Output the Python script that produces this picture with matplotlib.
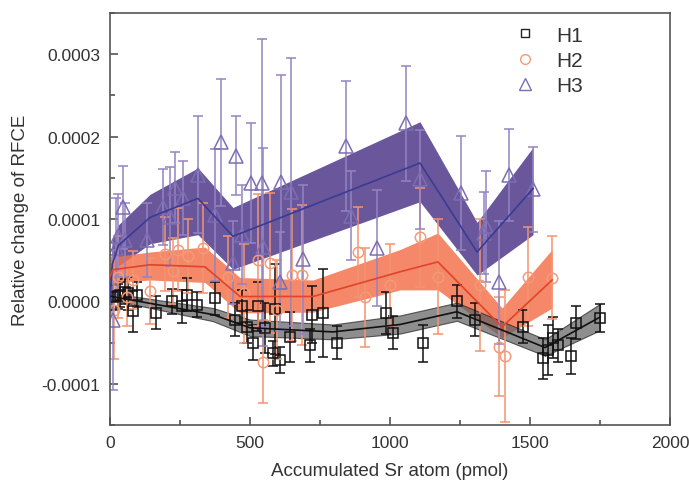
import numpy as np
import matplotlib
matplotlib.use("Agg")
import matplotlib.pyplot as plt
from matplotlib.lines import Line2D
from matplotlib.ticker import MultipleLocator, FuncFormatter

# ----------------------------------------------------------------------
# Datos (RFCE en unidades de 1e-4, x en pmol)
# ----------------------------------------------------------------------
# H1 - cuadrados
h1_x = [10, 29, 36, 54, 64, 82, 96, 165, 221, 257, 275, 311, 375, 446, 470,
        489, 511, 529, 554, 582, 589, 607, 643, 714, 721, 761, 811, 986,
        1011, 1118, 1239, 1304, 1475, 1546, 1564, 1582, 1600, 1646, 1664, 1750]
h1_y = [0.05, 0.06, 0.08, 0.12, 0.10, -0.12, 0.08, -0.14, 0.00, -0.06, 0.08,
        -0.04, 0.04, -0.22, -0.06, -0.31, -0.50, -0.06, -0.32, -0.63, -0.09,
        -0.71, -0.43, -0.53, -0.16, -0.14, -0.50, -0.14, -0.38, -0.51, 0.00,
        -0.22, -0.31, -0.69, -0.59, -0.44, -0.53, -0.66, -0.26, -0.20]
h1_err = [0.15, 0.15, 0.15, 0.15, 0.20, 0.25, 0.15, 0.20, 0.15, 0.20, 0.20,
          0.15, 0.20, 0.20, 0.20, 0.20, 0.21, 0.30, 0.30, 0.15, 0.55, 0.16,
          0.30, 0.20, 0.35, 0.53, 0.20, 0.25, 0.20, 0.22, 0.20, 0.20, 0.20,
          0.25, 0.30, 0.25, 0.20, 0.22, 0.20, 0.17]

# H2 - circulos
h2_x = [15, 30, 60, 82, 143, 196, 225, 243, 279, 332, 420, 480, 529, 546,
        571, 596, 650, 686, 886, 911, 1000, 1107, 1171, 1321, 1389, 1411,
        1493, 1579]
h2_y = [-0.10, 0.30, 0.05, 0.26, 0.13, 0.58, 0.37, 0.63, 0.55, 0.65, 0.30,
        0.10, 0.50, -0.73, 0.47, -0.10, 0.32, 0.32, 0.60, 0.05, 0.20, 0.78,
        0.30, 0.20, -0.55, -0.66, 0.30, 0.29]
h2_err = [0.60, 0.50, 0.35, 0.35, 0.40, 0.45, 0.40, 0.50, 0.45, 0.55, 0.50,
          0.60, 0.80, 0.50, 0.85, 0.60, 0.80, 0.85, 0.55, 0.60, 0.50, 0.60,
          0.70, 0.80, 0.60, 0.80, 0.60, 0.50]

# H3 - triangulos
h3_x = [10, 20, 30, 45, 55, 132, 190, 214, 232, 261, 315, 375, 396, 440,
        450, 471, 503, 543, 548, 607, 611, 646, 690, 843, 861, 954, 1057,
        1107, 1254, 1336, 1343, 1389, 1425, 1511]
h3_y = [-0.22, 0.65, 0.80, 1.14, 0.75, 0.75, 1.15, 1.03, 1.38, 1.26, 1.54,
        1.05, 1.93, 0.47, 1.77, 0.81, 1.44, 1.44, 0.66, 0.24, 1.45, 1.33,
        0.51, 1.89, 1.04, 0.65, 2.16, 1.48, 1.32, 0.83, 0.91, 0.23, 1.53,
        1.36]
h3_err = [0.85, 0.60, 0.50, 0.50, 0.45, 0.45, 0.46, 0.60, 0.43, 0.45, 0.71,
          0.80, 0.77, 0.50, 0.48, 0.60, 0.73, 1.75, 1.20, 0.60, 1.30, 1.63,
          0.90, 0.79, 0.54, 0.70, 0.70, 0.60, 0.69, 0.50, 0.67, 0.75, 0.56,
          0.52]

# Ajustes (linea central + banda)
h1_fit_x = [5, 368, 500, 796, 1036, 1239, 1554, 1750]
h1_fit_y = [0.06, -0.16, -0.32, -0.37, -0.28, -0.125, -0.56, -0.19]
h1_fit_hi = [0.10, -0.08, -0.22, -0.28, -0.17, -0.015, -0.46, -0.03]
h1_fit_lo = [0.02, -0.24, -0.42, -0.46, -0.39, -0.235, -0.66, -0.35]

h2_fit_x = [0, 10, 143, 339, 464, 725, 1036, 1171, 1400, 1579]
h2_fit_y = [0.30, 0.385, 0.445, 0.42, 0.06, 0.06, 0.36, 0.48, -0.31, 0.26]
h2_fit_hi = [0.55, 0.54, 0.60, 0.66, 0.29, 0.26, 0.63, 0.83, -0.08, 0.63]
h2_fit_lo = [0.10, 0.23, 0.26, 0.23, -0.14, -0.13, 0.14, 0.14, -0.44, -0.08]

h3_fit_x = [0, 8, 30, 143, 314, 439, 1107, 1311, 1511]
h3_fit_y = [0.00, 0.45, 0.68, 1.02, 1.25, 0.79, 1.68, 0.60, 1.37]
h3_fit_hi = [0.35, 0.75, 0.93, 1.30, 1.62, 1.14, 2.18, 0.96, 1.87]
h3_fit_lo = [-0.35, 0.15, 0.43, 0.70, 0.81, 0.39, 1.21, 0.32, 0.81]

labels = ["H1", "H2", "H3"]

E = 1e-4  # escala

# ----------------------------------------------------------------------
# Figura
# ----------------------------------------------------------------------
plt.rcParams["font.family"] = ["Liberation Sans", "DejaVu Sans"]
txt = "#333333"

fig = plt.figure(figsize=(6.89, 4.85), dpi=100)
ax = fig.add_axes([0.1597, 0.1216, 0.8127, 0.8495])

# bandas
ax.fill_between(h3_fit_x, np.array(h3_fit_lo) * E, np.array(h3_fit_hi) * E,
                color="#5a4590", alpha=0.9, lw=0, zorder=1)
ax.fill_between(h2_fit_x, np.array(h2_fit_lo) * E, np.array(h2_fit_hi) * E,
                color="#f3734d", alpha=0.85, lw=0, zorder=1)
ax.fill_between(h1_fit_x, np.array(h1_fit_lo) * E, np.array(h1_fit_hi) * E,
                facecolor="#5e5e5e", edgecolor="#222222", alpha=0.7, lw=0.8,
                zorder=1.2)

# puntos con barras de error
series = [
    (h1_x, h1_y, h1_err, "s", "#111111", "#111111", 7),
    (h2_x, h2_y, h2_err, "o", "#f59a78", "#f39472", 7.5),
    (h3_x, h3_y, h3_err, "^", "#7d6db3", "#9384c2", 9.5),
]
for xs, ys, es, mk, mc, ec, ms in series:
    ax.errorbar(xs, np.array(ys) * E, yerr=np.array(es) * E, fmt=mk, ms=ms,
                mfc="none", mec=mc, mew=1.1, ecolor=ec, elinewidth=1.1,
                capsize=3.5, capthick=1.1, zorder=2)

# lineas centrales
ax.plot(h3_fit_x, np.array(h3_fit_y) * E, color="#3b3a94", lw=1.2, zorder=3)
ax.plot(h2_fit_x, np.array(h2_fit_y) * E, color="#e2432a", lw=1.2, zorder=3)
ax.plot(h1_fit_x, np.array(h1_fit_y) * E, color="#111111", lw=1.2, zorder=3)

# ejes
ax.set_xlim(0, 2000)
ax.set_ylim(-0.00015, 0.00035)
ax.xaxis.set_major_locator(MultipleLocator(500))
ax.xaxis.set_minor_locator(MultipleLocator(250))
ax.yaxis.set_major_locator(MultipleLocator(0.0001))
ax.yaxis.set_minor_locator(MultipleLocator(0.00005))
ax.yaxis.set_major_formatter(FuncFormatter(lambda v, p: f"{v:.4f}"))
ax.tick_params(which="both", direction="in", colors="#444444", labelcolor=txt,
               labelsize=12.5, width=1.1)
ax.tick_params(which="major", length=6, pad=7)
ax.tick_params(which="minor", length=3.5)
for s in ax.spines.values():
    s.set_color("#555555")
    s.set_linewidth(1.2)

ax.set_xlabel("Accumulated Sr atom (pmol)", fontsize=13.5, color=txt, labelpad=9)
ax.set_ylabel("Relative change of RFCE", fontsize=13.5, color=txt, labelpad=9)

# leyenda (solo marcadores)
handles = [
    Line2D([], [], ls="none", marker="s", ms=6, mfc="none", mec="#222222", mew=1),
    Line2D([], [], ls="none", marker="o", ms=7, mfc="none", mec="#f59a78", mew=1),
    Line2D([], [], ls="none", marker="^", ms=8, mfc="none", mec="#7d6db3", mew=1),
]
ax.legend(handles, labels, loc="upper left", bbox_to_anchor=(0.685, 1.015),
          frameon=False, fontsize=15, handlelength=1.2, handletextpad=0.9,
          labelspacing=0.3, labelcolor=txt)

fig.savefig("out.png", dpi=100)
